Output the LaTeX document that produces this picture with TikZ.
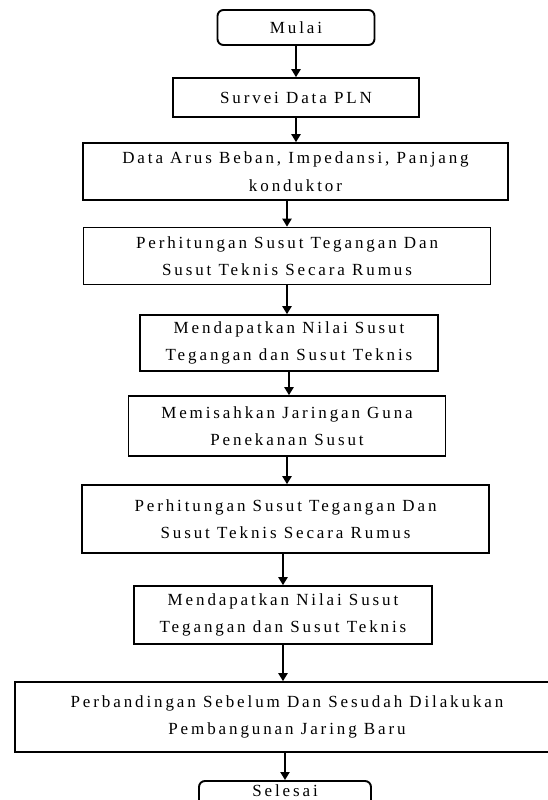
\documentclass[tikz,border=0pt]{standalone}
\usepackage{fontspec}
\newfontfamily\alurfont{Liberation Serif}[LetterSpace=17]
\usetikzlibrary{arrows.meta, positioning}

\tikzset{
  langkah/.style={draw=black, line width=1.6pt, align=center, inner sep=0pt,
    font=\alurfont\fontsize{17}{27.5}\selectfont},
  terminal/.style={langkah, rounded corners=6pt, line width=1.9pt},
  alur/.style={->, line width=2.2pt}
}

\begin{document}
\begin{tikzpicture}[x=1pt, y=1pt, >={Triangle[width=9pt,length=8pt]}]

      % --- Frame (same size as the page) ---
      \useasboundingbox (0,0) rectangle (548,-800);

      % --- Start ---
      \node[terminal, minimum width=157, minimum height=35] (mulai) at (296,-27.5) {Mulai};

      % --- Process steps ---
      \node[langkah, minimum width=246, minimum height=39] (survei) at (296,-97.5) {Survei Data PLN};
      \node[langkah, minimum width=425, minimum height=57] (dataarus) at (295.5,-171.5)
        {Data Arus Beban, Impedansi, Panjang\\konduktor};
      \node[langkah, minimum width=407, minimum height=57] (hitung1) at (287,-256)
        {Perhitungan Susut Tegangan Dan\\Susut Teknis Secara Rumus};
      \node[langkah, minimum width=298, minimum height=56] (nilai1) at (289,-343)
        {Mendapatkan Nilai Susut\\Tegangan dan Susut Teknis};
      \node[langkah, minimum width=317, minimum height=60] (pisah) at (287,-426)
        {Memisahkan Jaringan Guna\\Penekanan Susut};
      \node[langkah, minimum width=407, minimum height=68] (hitung2) at (285.5,-519)
        {Perhitungan Susut Tegangan Dan\\Susut Teknis Secara Rumus};
      \node[langkah, minimum width=298, minimum height=58] (nilai2) at (283,-615)
        {Mendapatkan Nilai Susut\\Tegangan dan Susut Teknis};
      % right side runs past the page edge
      \node[langkah, minimum width=560, minimum height=70] (banding) at (295,-717)
        {\hspace*{-16pt}Perbandingan Sebelum Dan Sesudah Dilakukan\\\hspace*{-16pt}Pembangunan Jaring Baru};

      % --- End (cut by the page bottom) ---
      \node[terminal, minimum width=172, minimum height=40, text height=12pt, text depth=22pt]
        (selesai) at (285,-801) {Selesai};

      % --- Connectors ---
      \foreach \dari/\ke in {mulai/survei, survei/dataarus, hitung1/nilai1,
                             nilai1/pisah, pisah/hitung2, nilai2/banding} {
        \draw[alur] (\dari.south) -- (\dari.south |- \ke.north);
      }
      \draw[alur] (dataarus.south -| hitung1.north) -- (hitung1.north);
      \draw[alur] (hitung2.south -| nilai2.north) -- (nilai2.north);
      \draw[alur] (banding.south -| selesai.north) -- (selesai.north);

    \end{tikzpicture}
\end{document}
